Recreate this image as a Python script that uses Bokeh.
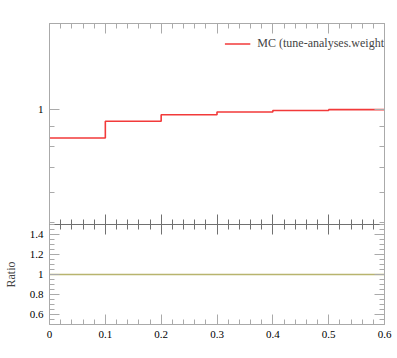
from bokeh.plotting import figure
from bokeh.layouts import column
from bokeh.models import Range1d, FixedTicker, LinearAxis, LogAxis, Legend
from bokeh.embed import file_html
from bokeh.resources import INLINE

# ---- data ----
bin_edges = [0.0, 0.1, 0.2, 0.3, 0.4, 0.5, 0.6]
mc_values = [0.841, 0.932, 0.970, 0.987, 0.996, 1.001]
ratio_values = [1.0, 1.0, 1.0, 1.0, 1.0, 1.0]
legend_text = "MC (tune-analyses.weight"

x_major = [0.0, 0.1, 0.2, 0.3, 0.4, 0.5, 0.6]
x_minor = [round(0.02 * i, 2) for i in range(31)]
x_labels = {0: "0"}
main_major = [1.0]
main_minor = [0.5, 0.6, 0.7, 0.8, 0.9]
main_labels = {1: "1"}
ratio_major = [0.6, 0.8, 1.0, 1.2, 1.4]
ratio_minor = [round(0.5 + 0.05 * i, 2) for i in range(21)]
ratio_labels = {1: "1"}

FONT = "Liberation Serif"
FRAME = "#aaaaaa"
JOIN = "#707070"
W = 395


def style_axis(ax, color=FRAME):
    ax.axis_line_color = color
    ax.major_tick_line_color = color
    ax.minor_tick_line_color = color
    ax.major_tick_in = 10
    ax.major_tick_out = 0
    ax.minor_tick_in = 5
    ax.minor_tick_out = 0
    ax.major_label_text_font = FONT
    ax.major_label_text_color = "black"
    ax.major_label_text_font_size = "11px"
    ax.major_label_standoff = 6


def add_plain(p, loc, major, minor, color=FRAME, log=False):
    """Axis with ticks only (no labels): minor ticks and longer major ticks."""
    cls = LogAxis if log else LinearAxis
    for ticks, length in ((minor, 5), (major, 10)):
        ax = cls(ticker=FixedTicker(ticks=[], minor_ticks=ticks))
        ax.axis_line_color = color
        ax.minor_tick_line_color = color
        ax.minor_tick_in = length
        ax.minor_tick_out = 0
        ax.major_tick_in = 0
        ax.major_tick_out = 0
        ax.major_label_standoff = 0
        ax.axis_label_standoff = 0
        p.add_layout(ax, loc)


xr = Range1d(0.0, 0.6)

# ---- upper panel ----
p1 = figure(width=W, height=224, x_range=xr, y_range=Range1d(0.494, 1.70),
            y_axis_type="log", x_axis_location=None, y_axis_location=None,
            output_backend="svg", toolbar_location=None,
            min_border_left=49, min_border_right=11, min_border_top=23, min_border_bottom=0)
p1.grid.visible = False
p1.outline_line_color = None

ax = LogAxis(ticker=FixedTicker(ticks=main_major, minor_ticks=main_minor))
style_axis(ax)
ax.major_label_overrides = main_labels
p1.add_layout(ax, "left")
add_plain(p1, "right", main_major, main_minor, log=True)
add_plain(p1, "above", x_major, x_minor)
add_plain(p1, "below", x_major, x_minor, color=JOIN)

ys = mc_values + [mc_values[-1]]
r1 = p1.step(bin_edges, ys, mode="after", line_color="#f23a3a", line_width=1.6)

leg = Legend(items=[(legend_text, [r1])], location="top_right")
leg.margin = 0
leg.padding = 0
leg.glyph_width = 26
leg.glyph_height = 41
leg.label_height = 41
leg.label_standoff = 7
leg.background_fill_alpha = 0
leg.border_line_alpha = 0
leg.label_text_font = FONT
leg.label_text_font_size = "12px"
p1.add_layout(leg, "center")

# ---- ratio panel ----
p2 = figure(width=W, height=126, x_range=xr, y_range=Range1d(0.5, 1.5),
            x_axis_location=None, y_axis_location=None,
            output_backend="svg", toolbar_location=None,
            min_border_left=49, min_border_right=11, min_border_top=0, min_border_bottom=26)
p2.grid.visible = False
p2.outline_line_color = None

ax = LinearAxis(ticker=FixedTicker(ticks=ratio_major, minor_ticks=ratio_minor))
style_axis(ax)
ax.major_label_overrides = ratio_labels
ax.axis_label = "Ratio"
ax.axis_label_text_font = FONT
ax.axis_label_text_font_size = "12px"
ax.axis_label_text_font_style = "normal"
ax.axis_label_standoff = 9
p2.add_layout(ax, "left")
add_plain(p2, "right", ratio_major, ratio_minor)
add_plain(p2, "above", x_major, x_minor, color=JOIN)

ax_bot = LinearAxis(ticker=FixedTicker(ticks=x_major, minor_ticks=x_minor))
style_axis(ax_bot)
ax_bot.major_label_standoff = 6
ax_bot.major_label_overrides = x_labels
p2.add_layout(ax_bot, "below")

p2.step(bin_edges, ratio_values + [ratio_values[-1]], mode="after",
        line_color="#b8b46e", line_width=1.5)

layout = column(p1, p2, spacing=0)
open("out.html", "w").write(file_html(layout, INLINE))
